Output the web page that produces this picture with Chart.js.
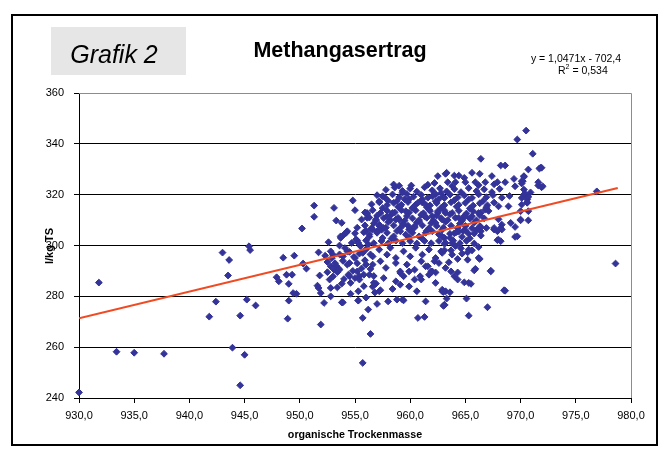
<!DOCTYPE html>
<html>
<head>
<meta charset="utf-8">
<title>Methangasertrag</title>
<script src="https://cdn.jsdelivr.net/npm/chart.js@4.4.0/dist/chart.umd.min.js"></script>
<style>
  html, body { margin: 0; padding: 0; background: #fff; }
  #wrap { width: 667px; height: 457px; position: relative; }
</style>
</head>
<body>
<div id="wrap"><canvas id="chart" width="667" height="457"></canvas></div>
<script>
/* ── Data (organische Trockenmasse, l/kg TS) ─────────────────── */

const sparseLeft = [
  [930.0,242.2],[931.8,285.4],[933.4,258.2],[935.0,257.8],[937.7,257.4],[941.8,272.0],[942.4,277.9],
  [943.0,297.2],[943.6,294.3],[943.5,288.2],[943.9,259.8],[944.6,272.4],[944.6,245.0],[945.0,257.0],
  [945.2,278.7],[945.4,299.7],[945.5,298.2],[946.0,276.4],[947.9,287.5],[948.1,285.9],[948.5,295.2],
  [948.8,288.5],[949.3,288.5],[949.0,284.9],[949.5,296.0],[949.4,281.3],[949.7,281.0],[949.0,278.3],
  [948.9,271.2],
];

const midCloud = [
  [950.2,306.7],[950.3,292.9],[950.6,290.9],[951.3,315.7],[951.3,311.3],[951.7,297.3],[951.8,288.2],
  [951.6,284.2],[951.7,283.3],[951.9,281.3],[951.9,268.9],[952.2,277.4],[952.7,286.6],[952.8,283.3],
  [952.6,301.3],[952.8,297.7],[953.1,290.5],[953.3,292.0],[953.5,291.0],[953.2,293.0],[953.4,289.5],
  [953.1,314.8],[953.3,309.8],[953.8,308.9],[953.7,303.0],[954.2,305.2],[954.0,304.3],[953.8,285.0],
  [953.8,277.6],[954.8,317.7],[955.0,313.9],[954.6,285.3],[955.0,287.2],[955.4,287.9],[955.3,278.3],
  [955.7,271.5],[956.2,274.8],[956.4,265.2],[955.7,253.8],[955.8,284.0],[956.1,312.8],[956.1,310.9],
  [955.2,302.0],[955.1,302.4],[955.5,299.7],[952.8,280.0],[952.3,296.0],[952.5,293.5],[952.9,295.0],
  [953.6,296.5],[953.9,294.0],[954.3,292.5],[954.5,297.5],[954.1,299.0],[953.6,300.0],[954.7,301.0],
  [954.9,295.5],[955.2,293.0],[955.4,296.8],[955.6,291.0],[955.8,288.5],[955.9,294.2],[954.4,288.5],
  [954.0,286.8],[953.0,287.8],[952.5,289.5],[954.8,290.0],[955.3,282.0],[954.6,281.0],[953.4,283.5],
  [956.0,279.5],[956.0,298.5],[956.3,303.5],[956.5,306.5],[956.2,300.5],[956.4,296.5],[956.6,292.5],
  [956.7,288.0],[956.9,285.0],[956.8,281.5],[957.0,277.0],[956.6,283.8],[954.3,305.6],[953.9,277.6],
  [955.3,278.4],[955.0,304.8],[955.8,305.2],
];

const lowerCloud = [
  [953.7,303.6],[954.2,305.0],[956.3,304.3],[957.0,305.6],[957.5,303.0],[957.9,305.0],[958.5,303.6],
  [959.1,305.6],[959.6,304.3],[960.2,305.0],[960.8,303.6],[961.4,305.0],[962.0,305.6],[962.6,304.3],
  [963.1,303.0],[953.0,296.4],[953.9,295.7],[954.3,297.7],[955.0,295.1],[955.7,297.1],[956.6,295.7],
  [957.2,298.4],[957.9,296.4],[958.2,299.1],[958.7,295.1],[959.4,297.7],[960.0,295.7],[960.5,299.1],
  [961.1,296.4],[961.7,298.4],[962.3,295.1],[962.9,297.1],[952.8,291.8],[953.6,290.5],[954.5,293.1],
  [955.2,289.8],[956.0,292.5],[956.4,290.8],[957.3,293.8],[957.8,291.2],[958.7,293.1],[959.1,289.8],
  [959.7,292.5],[960.4,290.5],[961.0,293.8],[961.4,291.8],[962.0,289.8],[962.6,293.1],[963.2,291.2],
  [954.5,287.9],[955.4,286.6],[956.3,288.5],[956.7,285.3],[957.6,287.2],[958.7,285.9],[959.4,287.9],
  [960.4,286.6],[961.7,288.5],[962.3,285.3],[957.2,282.0],[958.4,282.9],[959.1,284.6],[959.9,283.9],
  [960.6,282.0],[962.9,282.0],[963.2,282.0],[958.0,278.0],[958.8,278.7],[959.4,278.4],[961.4,278.0],
  [963.1,276.7],[960.7,271.5],[961.3,271.9],[957.3,282.4],[962.9,303.5],[964.0,304.8],[964.4,305.5],
  [965.0,306.0],[965.3,304.6],[964.7,303.4],[966.4,303.9],[968.3,306.3],[967.6,306.3],[969.5,303.4],
  [967.9,302.1],[968.2,301.7],[963.1,300.7],[962.8,297.7],[963.1,298.1],[963.7,298.1],[963.8,296.4],
  [964.6,298.9],[964.1,299.8],[963.8,300.9],[965.3,298.4],[965.6,298.1],[965.2,297.3],[966.2,299.4],
  [964.7,296.8],[963.5,293.4],[964.3,294.7],[965.2,294.4],[966.3,294.7],[963.7,289.8],[964.3,289.4],
  [965.8,290.2],[965.9,290.8],[967.3,289.8],[964.0,287.9],[964.3,286.6],[964.9,285.5],[965.3,285.3],
  [965.5,284.9],[962.9,282.6],[963.0,281.7],[963.6,281.6],[963.3,279.1],[965.1,279.1],[968.6,282.2],
  [963.0,276.3],[967.0,275.7],[965.3,272.4],[961.9,289.8],[961.6,291.8],[962.2,293.8],[962.3,289.4],
  [960.9,287.9],[961.0,286.6],[959.9,289.8],[959.1,289.2],[959.3,278.7],[966.2,295.1],[967.3,290.1],
  [968.5,282.4],[963.1,276.5],
];

const coreCloud = [
  [957.8,321.9],[958.6,322.8],[959.3,321.5],[960.0,322.4],[960.6,321.2],[961.3,322.9],[962.0,321.7],
  [962.7,322.5],[963.3,321.3],[964.0,322.2],[964.6,321.0],[965.3,322.6],[966.0,321.4],[966.7,322.1],
  [967.4,321.0],[968.1,322.3],
  [957.0,319.8],[957.7,318.9],[958.4,320.1],[959.0,319.0],[959.7,320.3],[960.3,319.2],[961.0,319.9],
  [961.6,318.8],[962.3,320.2],[963.0,319.1],[963.6,320.0],[964.3,318.9],[964.9,319.7],[965.6,318.7],
  [966.2,320.1],[966.9,319.0],[967.5,319.8],[968.3,318.8],[969.0,319.5],
  [956.5,316.2],[957.2,317.0],[957.9,315.9],[958.5,316.8],[959.2,316.0],[959.8,317.1],[960.5,316.1],
  [961.1,316.9],[961.8,315.8],[962.4,316.7],[963.1,315.9],[963.7,317.0],[964.4,316.0],[965.0,316.8],
  [965.7,315.7],[966.3,316.6],[967.0,315.8],[967.6,316.9],
  [955.9,313.0],[956.6,313.9],[957.3,312.8],[957.9,313.7],[958.6,313.0],[959.2,313.9],[959.9,312.9],
  [960.5,313.8],[961.2,312.7],[961.8,313.6],[962.5,312.9],[963.1,313.8],[963.8,312.8],[964.4,313.7],
  [965.1,312.6],[965.7,313.5],[966.4,312.9],[967.1,313.6],
  [955.6,310.2],[956.3,311.0],[956.9,309.9],[957.6,310.8],[958.2,310.0],[958.9,310.9],[959.5,309.8],
  [960.2,310.7],[960.8,310.0],[961.5,310.9],[962.1,309.9],[962.8,310.8],[963.4,310.0],[964.1,310.9],
  [964.7,309.8],[965.4,310.6],[966.0,309.9],[966.7,310.7],
  [955.2,307.0],[955.9,307.9],[956.5,306.8],[957.2,307.7],[957.8,307.0],[958.5,307.9],[959.1,306.9],
  [959.8,307.8],[960.4,307.1],[961.1,307.9],[961.7,306.8],[962.4,307.7],[963.0,307.0],[963.7,307.8],
  [964.3,306.9],[965.0,307.7],[965.6,306.8],[966.3,307.6],[966.9,306.9],
  [955.3,301.0],[956.0,302.0],[956.7,300.9],[957.4,301.8],[958.0,300.8],[958.7,301.9],[959.3,300.9],
  [960.0,301.7],[960.6,300.8],[961.3,301.8],[961.9,300.9],[962.6,301.8],[963.2,301.0],[963.9,301.9],
  [964.5,300.9],[965.1,301.8],[965.8,300.8],[963.6,304.6],[964.2,305.3],[965.8,304.7],[966.4,305.6],
];

const coreFill = [
  [958.0,317.6],[959.5,318.2],[961.0,317.7],[962.6,318.3],[964.0,317.8],[965.3,318.1],[966.6,317.5],
  [957.5,314.7],[958.9,315.2],[960.3,314.6],[961.5,315.1],[962.8,314.8],[964.2,315.3],[965.4,314.6],
  [966.9,315.0],[957.0,311.7],[958.3,312.2],[959.7,311.6],[961.0,312.1],[962.4,311.8],[963.6,312.3],
  [964.9,311.6],[966.3,312.0],[956.7,308.7],[958.0,309.2],[959.3,308.6],[960.6,309.1],[961.9,308.8],
  [963.2,309.3],[964.5,308.6],[965.8,309.0],[956.0,305.8],[957.4,306.2],[958.8,305.7],[960.1,306.1],
  [961.5,305.8],[962.9,306.2],[964.8,305.7],[966.0,306.1],[958.3,302.7],[959.9,303.1],[961.1,302.6],
  [963.6,303.0],[965.4,302.8],[959.0,323.5],[961.6,323.9],[963.8,323.4],[966.2,323.7],[967.6,324.1],
];

const upperCloud = [
  [958.5,324.0],[960.1,323.6],[962.5,327.3],[963.2,328.2],[962.2,324.6],[956.1,312.4],[957.2,317.4],
  [957.5,319.4],[958.8,317.5],[959.3,320.8],[959.9,318.2],[956.9,310.2],[957.2,308.2],[956.6,306.3],
  [957.0,305.0],[957.6,306.9],[957.9,311.5],[958.4,312.8],[958.7,310.2],[959.1,315.4],[959.6,313.5],
  [960.2,314.8],[960.7,316.8],[961.1,318.1],[961.4,316.1],[961.7,314.1],[961.3,311.5],[960.8,309.5],
  [960.4,307.6],[959.9,306.3],[959.4,308.2],[959.0,310.2],[962.0,319.4],[962.3,317.4],[962.8,320.7],
  [963.1,318.7],[963.0,315.4],[962.5,313.5],[962.0,311.5],[962.3,308.9],[962.9,310.2],[963.2,312.8],
  [969.7,341.7],[971.1,336.1],[966.4,334.1],[968.2,331.5],[968.6,331.5],[971.8,330.6],[970.7,329.9],
  [970.5,345.2],[963.3,328.6],[964.0,327.5],[964.4,327.5],[964.9,326.6],[965.6,328.6],[966.3,328.2],
  [967.4,327.3],[969.4,326.2],[970.3,327.3],[970.1,325.3],[963.4,324.9],[964.1,324.9],[965.0,324.9],
  [965.9,324.9],[966.8,324.9],[967.9,324.9],[968.6,324.9],[969.5,323.3],[970.3,322.0],[971.6,323.6],
  [971.9,322.9],[970.3,320.0],[970.6,318.1],[970.6,316.8],[968.0,315.4],[968.9,315.4],[966.8,314.1],
  [966.2,312.8],[965.6,311.5],[965.0,311.5],[964.4,310.9],[970.0,313.5],[970.7,313.5],[968.0,310.3],
  [968.3,308.2],[969.1,308.9],[970.0,310.2],[966.4,307.3],[967.9,305.6],[968.2,306.9],[969.5,307.3],
  [968.0,302.3],[969.7,303.6],[967.6,306.9],[971.7,330.3],[971.9,330.6],[970.3,327.0],[970.2,325.3],
  [970.1,324.4],[971.6,324.9],[972.0,323.3],[970.4,320.4],[970.9,320.9],[970.7,319.1],[970.1,318.7],
  [970.1,316.1],[970.6,317.0],[970.0,309.9],[970.7,309.9],[976.9,321.3],[978.6,292.9],
];

/* Linear trend: y = 1,0471x - 702,4 */
const trendX = [930.0, 978.8];
const trendY = [271.4, 322.6];

const xTickValues = [930, 935, 940, 945, 950, 955, 960, 965, 970, 975, 980];
const yTickValues = [240, 260, 280, 300, 320, 340, 360];

/* ── Style ───────────────────────────────────────────────────── */
const FONT = "'Liberation Sans', Arial, sans-serif";
const MARKER = '#333399';
const TREND = '#f04a23';

const toPoints = list => list.map(([x, y]) => ({ x, y }));
const allPoints = [...sparseLeft, ...midCloud, ...lowerCloud, ...coreCloud, ...coreFill, ...upperCloud];

/* ── Frame, header box, titles ──────────────────────────────── */
const decorations = {
  id: 'decorations',
  beforeDraw(chart) {
    const c = chart.ctx;
    c.save();
    c.fillStyle = '#fff';
    c.fillRect(0, 0, chart.width, chart.height);
    c.fillStyle = '#e6e6e6';
    c.fillRect(51, 27, 135, 48);
    c.restore();
  },
  afterDraw(chart) {
    const c = chart.ctx;
    const a = chart.chartArea;
    c.save();

    /* plot box: grey top/right */
    c.strokeStyle = '#8c8c8c';
    c.lineWidth = 1;
    c.beginPath();
    c.moveTo(a.left, a.top + 0.5);
    c.lineTo(a.right + 0.5, a.top + 0.5);
    c.lineTo(a.right + 0.5, a.bottom);
    c.stroke();

    /* outer frame */
    c.strokeStyle = '#000';
    c.lineWidth = 2;
    c.strokeRect(12, 15, 645, 430);

    c.fillStyle = '#000';
    c.textAlign = 'center';
    c.textBaseline = 'alphabetic';

    c.font = `italic 25px ${FONT}`;
    c.fillText('Grafik 2', 114, 63);

    c.font = `bold 21.5px ${FONT}`;
    c.fillText('Methangasertrag', 340, 57);

    c.font = `10.5px ${FONT}`;
    c.fillText('y = 1,0471x - 702,4', 576, 62);

    /* R² line, superscript laid out by hand */
    c.textAlign = 'left';
    let x = 558;
    c.fillText('R', x, 74);
    x += c.measureText('R').width;
    c.font = `7px ${FONT}`;
    c.fillText('2', x, 69);
    x += c.measureText('2').width;
    c.font = `10.5px ${FONT}`;
    c.fillText(' = 0,534', x, 74);

    c.textAlign = 'center';
    c.font = `bold 10.7px ${FONT}`;
    c.fillText('organische Trockenmasse', 355, 438);

    c.translate(53, 246);
    c.rotate(-Math.PI / 2);
    c.font = `bold 11px ${FONT}`;
    c.fillText('l/kg TS', 0, 0);

    c.restore();
  },
};

/* ── Chart ──────────────────────────────────────────────────── */
new Chart(document.getElementById('chart'), {
  type: 'scatter',
  data: {
    datasets: [
      {
        type: 'line',
        label: 'Trend',
        data: trendX.map((x, i) => ({ x, y: trendY[i] })),
        borderColor: TREND,
        borderWidth: 2,
        pointRadius: 0,
        fill: false,
        order: 0,
      },
      {
        label: 'Methangasertrag',
        data: toPoints(allPoints),
        pointStyle: 'rectRot',
        pointRadius: 3.4,
        backgroundColor: MARKER,
        borderColor: MARKER,
        borderWidth: 1,
        clip: false,
        order: 1,
      },
    ],
  },
  options: {
    responsive: false,
    animation: false,
    events: [],
    layout: { padding: { top: 93, right: 36, left: 0, bottom: 0 } },
    plugins: { legend: { display: false }, tooltip: { enabled: false } },
    scales: {
      x: {
        type: 'linear',
        min: 930,
        max: 980,
        afterBuildTicks: s => { s.ticks = xTickValues.map(v => ({ value: v })); },
        afterFit: s => { s.height = 59; },
        grid: { drawOnChartArea: false, drawTicks: true, tickLength: 5, color: '#000' },
        border: { color: '#000', width: 1 },
        ticks: {
          color: '#000',
          padding: 6,
          maxRotation: 0,
          font: { family: FONT, size: 11 },
          callback: v => v.toFixed(1).replace('.', ','),
        },
      },
      y: {
        min: 240,
        max: 360,
        afterBuildTicks: s => { s.ticks = yTickValues.map(v => ({ value: v })); },
        afterFit: s => { s.width = 79; },
        grid: {
          color: ctx => (ctx.tick && ctx.tick.value === 360 ? '#8c8c8c' : '#000'),
          lineWidth: 1,
          drawTicks: true,
          tickLength: 5,
          tickColor: '#000',
        },
        border: { color: '#000', width: 1 },
        ticks: {
          color: '#000',
          padding: 10,
          font: { family: FONT, size: 11 },
          callback: v => String(v),
        },
      },
    },
  },
  plugins: [decorations],
});
</script>
</body>
</html>
